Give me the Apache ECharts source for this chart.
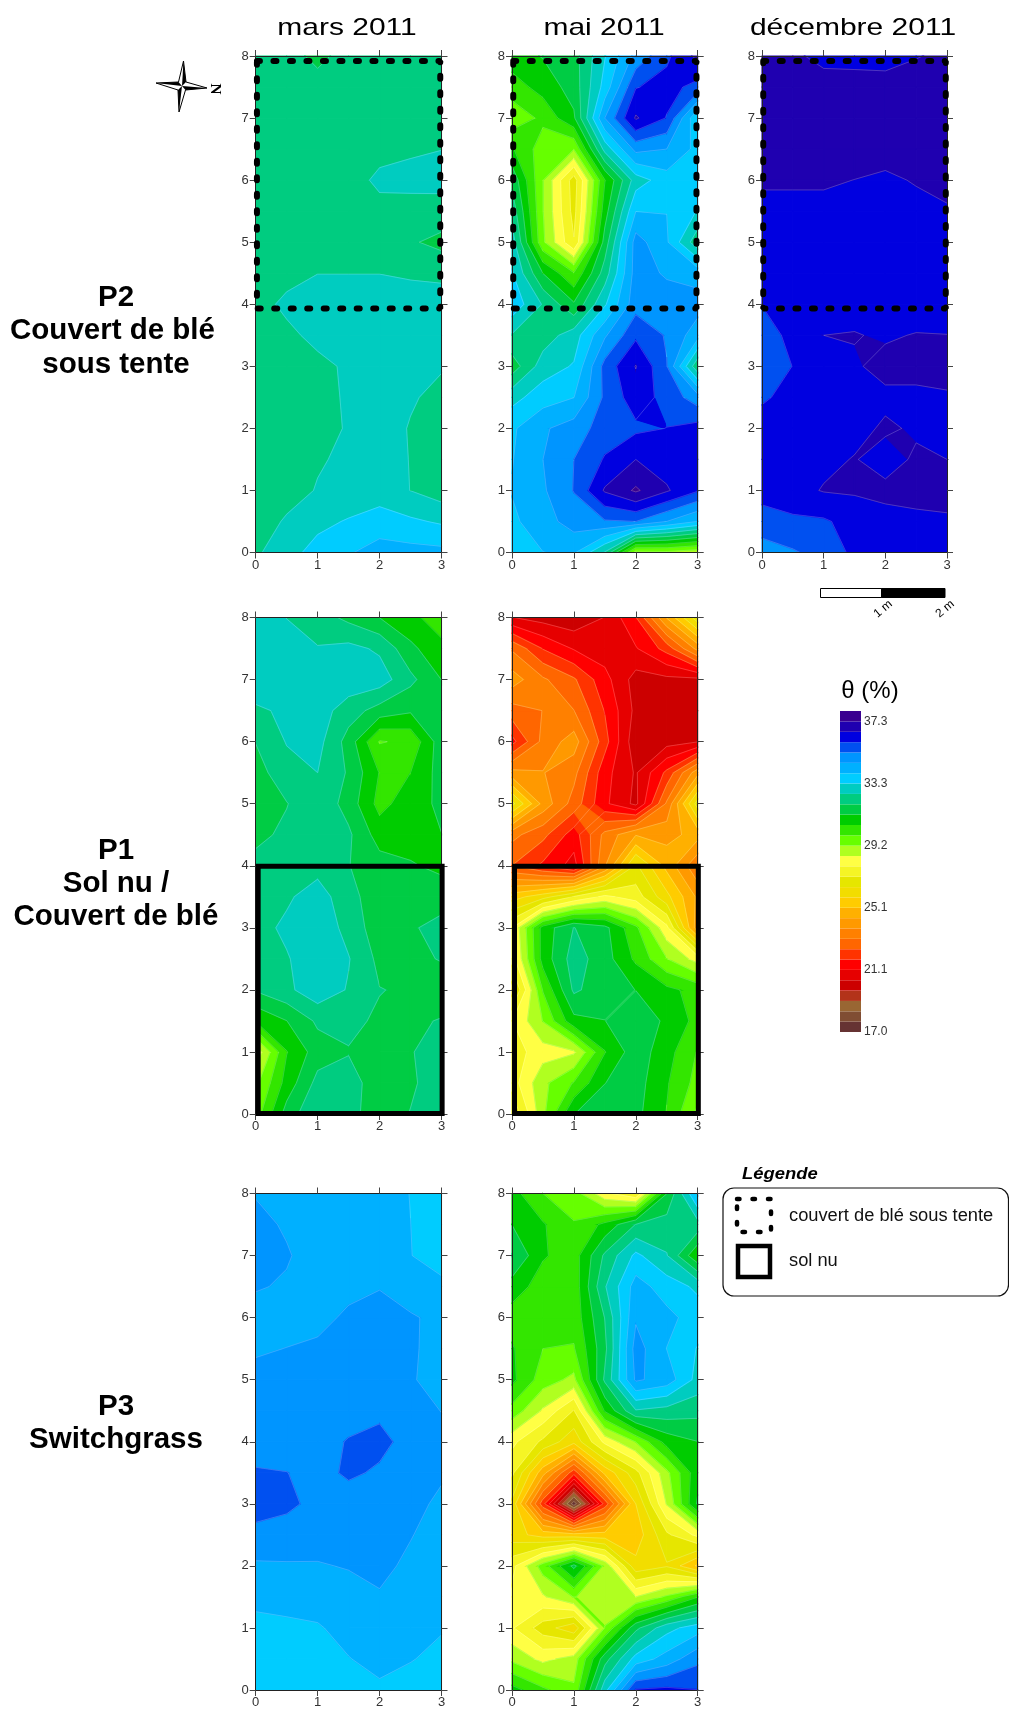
<!DOCTYPE html>
<html><head><meta charset="utf-8">
<script src="https://cdn.jsdelivr.net/npm/echarts@6/dist/echarts.min.js"></script>
<style>html,body{margin:0;padding:0;background:#fff}#c{width:1009px;height:1719px}</style></head>
<body><div id="c"></div>
<script>
// rows run from y=8 down to y=0, columns x=0..3
const p2Mars=[[32.2,31.8,32.2,32.2],[32.2,32.2,32.2,32.3],[32.2,32.1,32.65,32.8],[32.2,32.2,32.2,31.7],[32.4,32.9,32.9,33.0],[32.1,32.45,32.8,32.6],[32.0,32.4,32.8,32.25],[32.0,32.6,32.9,32.2],[32.45,33.5,34.2,34.1]];
const p2Mai=[[30.9,31.6,34.8,36.8],[29.4,31.1,36.7,33.3],[31.7,26.8,32.9,33.7],[32.9,27.2,34.9,32.1],[33.7,31.3,35.0,34.9],[31.5,33.3,36.65,32.0],[33.8,34.9,35.8,36.2],[33.95,35.3,37.4,36.0],[33.6,34.0,28.9,28.7]];
const p2Dec=[[36.9,36.5,36.5,36.7],[37,37.1,37,37],[36.68,36.68,36.55,36.75],[36.3,36.3,36.3,36.4],[35.95,36.3,36.3,36.3],[35.6,36.3,36.8,36.85],[36.15,36.3,36.7,36.5],[36.15,36.66,36.75,36.8],[34.9,35.5,36.4,36.3]];
const p1Mars=[[32.9,32.2,31.2,30.2],[33,33,32.9,31.2],[31.9,32.8,29.8,31.6],[31.3,32.4,30.3,31.35],[32.1,32.3,31.5,31.05],[32.3,33.1,31.5,32.1],[31.95,33,31.9,31.7],[28,31.55,31.6,32.1],[29.5,32.5,31.6,32.2]];
const p1Mai=[[20.4,19.9,21.7,26.9],[24.1,22.5,20.1,20.2],[21.5,24.1,19.9,20.35],[26.7,22.8,20.2,26.8],[22.4,20.8,26.6,23.2],[27.8,31.9,30,24],[26.2,32,31.2,30.3],[27.5,28.4,31.6,29.8],[26.5,31.2,31.4,29]];
const p3Mars=[[34.55,34.2,34.1,33.7],[35,34.3,34.2,33.65],[34.3,34.45,34.9,34.45],[34.75,34.9,34.95,34.35],[34.9,35.1,35.4,34.8],[35.6,35.1,34.95,34.5],[34.5,34.55,34.7,34.3],[33.7,33.85,34.4,33.95],[33.6,33.5,33.8,33.6]];
const p3Mai=[[30.8,29.5,27.2,34],[31.9,30.2,33.4,30.6],[30.2,30.1,34.5,33.6],[30.7,29,34.7,33],[28,26,30.5,31.2],[26.3,17.3,25.8,31.3],[27.6,31.4,26,25],[27.9,26,31.7,33.6],[30.8,29.3,36,35.95]];
// additional readings at half-metre nodes: [x, y, value]
const p2MaiHalf=[[2.5,7.5,36.2],[3,7.5,35.7],[2.5,7,35.9],[2,7.5,35.9],[1.5,7.5,33.5],[1.5,7,34.6],[2,6.5,34.8],[2.5,6.5,34.59],[3,6.5,33.7],[1.5,6.5,32.8],[1,6.5,29.2],[0.5,6.5,29.5],[0,6.5,30.6],[0.5,7.5,30.8],[1,7.5,31.5],[0,7.5,30.2],[0.5,7,30],[0.5,6,29.2],[0.5,5.5,29.2],[1,5.5,26.9],[0.5,5,29.3],[1,4.5,29.9],[0.5,4.5,31.2],[1.5,4.5,32.2],[2,4.5,34.9],[2.5,4.5,34.5],[3,4.5,34.3],[2.5,5,34],[2.5,5.5,33.9],[3,5.5,33.2],[1.5,5.5,30.9],[2,5.5,33.9],[1.5,5,31.5],[1.5,6,30.5],[2.5,6,33.6],[0,3.5,32.5],[0.5,3.5,32.2],[1,3.5,32.9],[1.5,3.5,34.5],[2,3.5,35.8],[2.5,3.5,35.2],[3,3.5,34.2],[0.5,3,32.9],[1.5,3,35.5],[2.5,3,35.3],[0,2.5,33],[0.5,2.5,33.6],[1,2.5,33.9],[1.5,2.5,35.4],[2,2.5,36.3],[2.5,2.5,35.7],[3,2.5,34.9],[0.5,2,34.5],[1.5,2,35.6],[2.5,2,35.95],[0.5,1.5,34.59],[1,1.5,35.27],[1.5,1.5,36],[2,1.5,36.62],[2.5,1.5,36.3],[3,1.5,36.2],[0.5,1,34.5],[1.5,1,36.7],[2.5,1,36.7],[0.5,0.5,34.3],[1,0.5,34.9],[1.5,0.5,35.2],[2,0.5,35.27],[2.5,0.5,34.59],[3,0.5,33.9],[0.5,0,33.9],[1.5,0,32.5],[2.5,0,29]];
const p2DecHalf=[[2,2.5,36.5],[2.5,2.5,36.5],[3,2.5,36.55],[3,2,36.5],[2,1.5,36.4],[2.5,1.5,36.7],[3,1.5,36.62],[2.5,2,36.55],[1.5,1.5,36.65],[1.5,2,36.45],[1.5,1,36.7],[2.5,1,36.8],[2.5,0.5,36.5],[3,0.5,36.55],[2,0.5,36.45],[1.5,0.5,36.2],[1,0.5,35.85],[0.5,0.5,35.8],[0,0.5,35.7],[1.5,0,36.1],[1,3.5,36.62],[1.5,3.5,36.65],[1.5,3,36.55],[2,3.5,36.55],[2.5,3.5,36.65],[3,3.5,36.63],[2.5,3,36.8],[1.5,4,36.4]];
const p1MarsHalf=[[0.5,0,31.5],[1,6.5,32.9],[1.5,6.5,32.2],[1.5,7,33],[1.5,7.5,32.75],[2,7.5,32.45],[0.5,6,32.6],[1,5.5,32.56],[0.5,5.5,32.3],[2,6.5,31.6],[2.5,6.5,31.3],[1.5,5.5,31.8],[1.5,6,31.6],[2,5.5,30.5],[2.5,5.5,30.53],[2.5,6,30],[2.5,5,30.9],[1.5,5,31.6],[1.5,4.5,32],[2,4.5,30.9],[2.5,4.5,30.9],[3,5.5,31.5],[3,4.5,31.2],[1,4.5,32.4],[1,3.5,32.9],[0.5,3,32.7],[1.5,3,32.3],[1,2.5,33],[0.5,2.5,32.5],[1.5,2.5,32.6],[1.5,2,32.5],[0.5,2,32.4],[1,1.5,32],[0.5,1.5,31.2],[0,1.5,30.6],[1.5,1.5,32],[2,1.5,31.8],[1.5,1,31.85],[0.5,1,30.5],[0,0.5,29],[0.5,0.5,30.8],[1,0.5,32.1],[1.5,0.5,32.1],[2,0.5,31.6],[2.5,0.5,31.8]];
const p1MaiHalf=[[0.5,8,20.1],[1.5,8,20.4],[2.5,8,24.5],[0,7.5,23],[0.5,7.5,21.7],[1,7.5,21],[1.5,7.5,20.7],[2,7.5,21],[2.5,7.5,22],[3,7.5,24],[0.5,7,23.2],[2.5,7,20.2],[0,6.5,22.8],[0.5,6.5,23.1],[1,6.5,23.1],[1.5,6.5,21.7],[2,6.5,20.2],[2.5,6.5,20.1],[3,6.5,20.1],[0.5,6,23.3],[1.5,6,22],[2.5,6,20.1],[0,5.5,24],[0.5,5.5,23.8],[1,5.5,23.3],[1.5,5.5,21.3],[2,5.5,20.3],[2.5,5.5,21.9],[3,5.5,24.2],[0.5,5,24.2],[1.5,5,21.2],[2.5,5,23.2],[0,4.5,23.3],[0.5,4.5,22.6],[1,4.5,21.4],[1.5,4.5,23.3],[2,4.5,24.4],[2.5,4.5,24.2],[3,4.5,24.7],[0,3.5,25.5],[0.5,3.5,26.2],[1,3.5,27.2],[1.5,3.5,28],[2,3.5,27.5],[2.5,3.5,26],[3,3.5,24.3],[0.5,3,30.8],[1.5,3,31.4],[2.5,3,28],[0,2.5,27.5],[0.5,2.5,30.8],[1,2.5,32.2],[1.5,2.5,31.5],[2,2.5,30.4],[2.5,2.5,29.2],[3,2.5,28.2],[0.5,2,29.9],[1.5,2,31.5],[2.5,2,30.7],[0,1.5,27.8],[0.5,1.5,29.2],[1,1.5,31],[1.5,1.5,31.2],[2,1.5,31.6],[2.5,1.5,31.1],[3,1.5,30.3],[0.5,1,28.2],[1.5,1,30.5],[2.5,1,30.8],[0,0.5,27.5],[0.5,0.5,29],[1,0.5,29.9],[1.5,0.5,31.2],[2,0.5,31.5],[2.5,0.5,30.6],[3,0.5,29.6],[0.5,0,29],[1.5,0,31.5],[2.5,0,30.5]];
const p3MarsHalf=[[1.5,3.5,35.35],[1.5,4,35.3],[2,3.5,35.2],[2.5,4,35.1],[0.5,3.5,35.28],[0.5,3,35.4],[0,3.5,35.35],[0.5,2.5,35],[0,2.5,35.05],[2.5,6,34.65]];
const p3MaiHalf=[[0.5,7,30.6],[0.5,8,29.85],[0,7.5,31.2],[0.5,7.5,30.6],[1,7.5,29.9],[1.5,7.5,30.7],[2,7.5,31.9],[2.5,7.5,32.2],[3,7.5,32.3],[1.5,8,28],[2.5,8,31.2],[1.5,7,32],[2.5,7,32.6],[0.5,6.5,30.2],[0,6.5,30.9],[1,6.5,30.1],[1.5,6.5,32.5],[2,6.5,34.2],[2.5,6.5,33.6],[3,6.5,33.1],[1.5,6,31.9],[2.5,6,34.1],[0,5.5,30.6],[0.5,5.5,29.85],[1,5.5,29.8],[1.5,5.5,31.7],[2,5.5,34.9],[2.5,5.5,33.9],[3,5.5,33.2],[0.5,5,29.5],[1.5,5,32],[2.5,5,34.3],[0,4.5,29.6],[0.5,4.5,28.4],[1,4.5,27.1],[1.5,4.5,30.6],[2,4.5,32.5],[2.5,4.5,32.3],[3,4.5,32.1],[1.5,4,28],[2,4,29.2],[2.5,4,30.8],[0,3.5,27.3],[0.5,3.5,24.7],[1,3.5,22],[1.5,3.5,25.3],[2,3.5,26.9],[2.5,3.5,29],[3,3.5,31],[0.5,3,22],[1.5,3,22],[0,2.5,26.1],[0.5,2.5,25.5],[1,2.5,25.4],[1.5,2.5,25.4],[2,2.5,25.4],[2.5,2.5,27],[3,2.5,28],[0.5,2,29.5],[1.5,2,29],[2.5,2,26.4],[0,1.5,28],[0.5,1.5,28.4],[1,1.5,29.2],[1.5,1.5,28.9],[2,1.5,28.5],[2.5,1.5,29.3],[3,1.5,30.5],[0.5,1,26.8],[1.5,1,29.2],[2.5,1,33],[0,0.5,29],[0.5,0.5,28.3],[1,0.5,28.8],[1.5,0.5,31.6],[2,0.5,33.5],[2.5,0.5,34.2],[3,0.5,35.1],[0.5,0,30],[1.5,0,33],[2.5,0,36.1]];
const noHalf=[];
const contourLevels=[17.0,17.68,18.35,19.03,19.71,20.38,21.06,21.74,22.41,23.09,23.77,24.44,25.12,25.8,26.47,27.15,27.83,28.5,29.18,29.85,30.53,31.21,31.88,32.56,33.24,33.91,34.59,35.27,35.94,36.62,37.3];
const bandColors=['#663333','#804d33','#996633','#b3331a','#cc0000','#e60000','#ff0000','#ff3300','#ff6600','#ff8000','#ff9900','#ffb000','#ffcc00','#f2dd00','#e6e600','#f5f525','#ffff44','#b0ff20','#66ff00','#33e600','#00cc00','#00cc44','#00cc80','#00ccc0','#00ccff','#00b0ff','#0095ff','#0050f0','#0000e0','#1f00b0','#3a0090'];
const barTop=37.98;
const barTicks=[17.0,21.06,25.12,29.18,33.24,37.3];
const barTickLabels=['17.0','21.1','25.1','29.2','33.3','37.3'];
const columnTitles=['mars 2011','mai 2011','décembre 2011'];
const dottedBox=[[0.02,7.92],[2.98,7.92],[2.98,3.93],[0.02,3.93],[0.02,7.92]];
const solidBox=[[0.04,3.99],[3.01,3.99],[3.01,0.01],[0.04,0.01],[0.04,3.99]];

const panels=[
 {v:p2Mars,h:noHalf,l:255.7,w:185.8,t:56,b:552.5,box:'d'},
 {v:p2Mai,h:p2MaiHalf,l:512,w:185.7,t:56,b:552.5,box:'d'},
 {v:p2Dec,h:p2DecHalf,l:762,w:185,t:56,b:552.5,box:'d'},
 {v:p1Mars,h:p1MarsHalf,l:255.7,w:185.8,t:617.5,b:1114,box:'s'},
 {v:p1Mai,h:p1MaiHalf,l:512,w:185.7,t:617.5,b:1114,box:'s'},
 {v:p3Mars,h:p3MarsHalf,l:255.7,w:185.8,t:1193.5,b:1690},
 {v:p3Mai,h:p3MaiHalf,l:512,w:185.7,t:1193.5,b:1690}
];
function surface(p){
  const g={};
  for(let i=0;i<=6;i++)for(let j=0;j<=16;j++){
    const x=i/2,y=j/2,x0=Math.min(Math.floor(x),2),y0=Math.min(Math.floor(y),7),fx=x-x0,fy=y-y0;
    const r0=p.v[8-y0],r1=p.v[8-y0-1];
    g[i+'_'+j]=(r0[x0]*(1-fx)+r0[x0+1]*fx)*(1-fy)+(r1[x0]*(1-fx)+r1[x0+1]*fx)*fy;
  }
  p.h.forEach(e=>{g[(e[0]*2)+'_'+(e[1]*2)]=e[2];});
  const out=[];
  for(let i=0;i<6;i++)for(let j=0;j<16;j++){
    out.push([i/2,j/2,i/2+.5,j/2+.5,g[i+'_'+j],g[(i+1)+'_'+j],g[i+'_'+(j+1)],g[(i+1)+'_'+(j+1)]]);
  }
  return out;
}
function quad(api){
  const x0=api.value(0),y0=api.value(1),x1=api.value(2),y1=api.value(3);
  return [{x:x0,y:y0,v:api.value(4)},{x:x1,y:y0,v:api.value(5)},{x:x1,y:y1,v:api.value(7)},{x:x0,y:y1,v:api.value(6)}];
}
function clip(poly,level,keepAbove){
  const out=[];
  for(let i=0;i<poly.length;i++){
    const p=poly[i],q=poly[(i+1)%poly.length];
    const pIn=keepAbove?p.v>=level:p.v<=level,qIn=keepAbove?q.v>=level:q.v<=level;
    if(pIn)out.push(p);
    if(pIn!==qIn){const t=(level-p.v)/(q.v-p.v);out.push({x:p.x+(q.x-p.x)*t,y:p.y+(q.y-p.y)*t,v:level});}
  }
  return out;
}
function renderFill(params,api){
  const children=[],c=quad(api);
  const mn=Math.min(c[0].v,c[1].v,c[2].v,c[3].v),mx=Math.max(c[0].v,c[1].v,c[2].v,c[3].v);
  for(let k=0;k<bandColors.length;k++){
    const lo=contourLevels[k],hi=k+1<contourLevels.length?contourLevels[k+1]:Infinity;
    if((k>0&&mx<lo)||mn>hi)continue;
    let poly=c;
    if(k>0)poly=clip(poly,lo,true);
    if(hi!==Infinity&&poly.length)poly=clip(poly,hi,false);
    if(poly.length<3)continue;
    children.push({type:'polygon',shape:{points:poly.map(o=>api.coord([o.x,o.y]))},style:{fill:bandColors[k],stroke:bandColors[k],lineWidth:1.1},silent:true});
  }
  return {type:'group',children};
}
function renderLines(params,api){
  const children=[],c=quad(api);
  contourLevels.forEach(L=>{
    const pts=[];
    for(let i=0;i<4;i++){
      const p=c[i],q=c[(i+1)%4];
      if((p.v<L)!==(q.v<L)){const t=(L-p.v)/(q.v-p.v);pts.push(api.coord([p.x+(q.x-p.x)*t,p.y+(q.y-p.y)*t]));}
    }
    for(let n=0;n+1<pts.length;n+=2){
      children.push({type:'line',shape:{x1:pts[n][0],y1:pts[n][1],x2:pts[n+1][0],y2:pts[n+1][1]},style:{stroke:'rgba(255,255,255,0.3)',lineWidth:0.7},silent:true});
    }
  });
  return {type:'group',children};
}
const grid=[],xAxis=[],yAxis=[],series=[];
panels.forEach((p,i)=>{
  grid.push({left:p.l,width:p.w,top:p.t,height:p.b-p.t});
  const ax={gridIndex:i,type:'value',splitLine:{show:false},z:8,
    axisLine:{show:true,onZero:false,lineStyle:{color:'#222',width:1}},axisTick:{show:true,length:6,inside:false,lineStyle:{color:'#444',width:1}}};
  const lab={show:true,fontFamily:'Liberation Sans',fontSize:13,color:'#333',margin:7,showMinLabel:true,showMaxLabel:true};
  xAxis.push(Object.assign({},ax,{min:0,max:3,interval:1,position:'bottom',axisLabel:Object.assign({},lab,{margin:6})}));
  xAxis.push(Object.assign({},ax,{min:0,max:3,interval:1,position:'top',axisLabel:{show:false}}));
  yAxis.push(Object.assign({},ax,{min:0,max:8,interval:1,position:'left',axisLabel:lab}));
  yAxis.push(Object.assign({},ax,{min:0,max:8,interval:1,position:'right',axisLabel:{show:false}}));
  const data=surface(p),base={type:'custom',coordinateSystem:'cartesian2d',xAxisIndex:i*2,yAxisIndex:i*2,data,encode:{x:[0,2],y:[1,3]},clip:false,silent:true,animation:false};
  series.push(Object.assign({},base,{renderItem:renderFill,z:2}));
  series.push(Object.assign({},base,{renderItem:renderLines,z:3}));
  if(p.box){
    const d=p.box==='d';
    series.push({type:'line',xAxisIndex:i*2,yAxisIndex:i*2,data:d?dottedBox:solidBox,symbol:'none',clip:false,silent:true,animation:false,z:10,
      lineStyle:d?{color:'#000',width:6,type:[3,13.5],cap:'round'}:{color:'#000',width:5,join:'miter',cap:'square'}});
  }
});
// colour scale
const bi=panels.length;
grid.push({left:840,width:21,top:711,height:321});
xAxis.push({gridIndex:bi,type:'value',min:0,max:1,show:false});
yAxis.push({gridIndex:bi,type:'value',min:17,max:barTop,position:'right',splitLine:{show:false},axisLine:{show:false},axisTick:{show:false},
  axisLabel:{show:true,customValues:barTicks,formatter:v=>barTickLabels[barTicks.indexOf(v)],fontFamily:'Liberation Sans',fontSize:12,color:'#333',margin:3}});
series.push({type:'custom',coordinateSystem:'cartesian2d',xAxisIndex:xAxis.length-1,yAxisIndex:yAxis.length-1,silent:true,animation:false,
  data:bandColors.map((c,k)=>[k,contourLevels[k],k+1<contourLevels.length?contourLevels[k+1]:barTop]),encode:{y:[1,2]},
  renderItem:(params,api)=>{
    const a=api.coord([0,api.value(2)]),b=api.coord([1,api.value(1)]);
    return {type:'rect',shape:{x:a[0],y:a[1],width:b[0]-a[0],height:b[1]-a[1]},style:{fill:bandColors[api.value(0)]}};
  }});
const txt=(text,x,y,font,extra)=>Object.assign({type:'text',x,y,silent:true,style:{text,font,fill:'#000',textAlign:'center',textVerticalAlign:'middle'}},extra||{});
const rowFont='bold 29.5px "Liberation Sans"';
const graphic=[];
[347,604,853].forEach((x,i)=>graphic.push(txt(columnTitles[i],x,28,'24px "Liberation Sans"',{scaleX:1.25})));
[['P2',116,298],['Couvert de blé',112.5,331],['sous tente',116,365],['P1',116,851],['Sol nu /',116,884],['Couvert de blé',116,917],['P3',116,1407],['Switchgrass',116,1440]].forEach(r=>graphic.push(txt(r[0],r[1],r[2],rowFont)));
graphic.push(txt('θ (%)',870,691,'24px "Liberation Sans"'));
// scale bar
graphic.push({type:'rect',shape:{x:820.5,y:588.5,width:61,height:9},style:{fill:'#fff',stroke:'#000',lineWidth:1}});
graphic.push({type:'rect',shape:{x:881.5,y:588.5,width:63.5,height:9},style:{fill:'#000',stroke:'#000',lineWidth:1}});
graphic.push(txt('1 m',883,609,'12px "Liberation Sans"',{rotation:0.7}));
graphic.push(txt('2 m',945,609,'12px "Liberation Sans"',{rotation:0.7}));
// north arrow
const N=[183.5,61],E=[207,88],S=[179,112],W=[156,83],C=[182,86],ne=[186,82],se=[185.5,90],sw=[178,90],nw=[178.5,82];
graphic.push({type:'polygon',shape:{points:[N,ne,E,se,S,sw,W,nw]},style:{fill:'#fff',stroke:'#000',lineWidth:1}});
[[N,ne,C],[E,se,C],[S,sw,C],[W,nw,C]].forEach(pts=>graphic.push({type:'polygon',shape:{points:pts},style:{fill:'#000'}}));
graphic.push(txt('N',215,89,'bold 15px "Liberation Serif"',{rotation:-Math.PI/2}));
// legend
graphic.push({type:'text',x:742,y:1175,scaleX:1.15,silent:true,style:{text:'Légende',font:'italic bold 16px "Liberation Sans"',fill:'#000',textAlign:'left',textVerticalAlign:'middle'}});
graphic.push({type:'rect',shape:{x:723,y:1188,width:285.5,height:108,r:11},style:{fill:'#fff',stroke:'#111',lineWidth:1.2}});
graphic.push({type:'rect',shape:{x:737,y:1199,width:34,height:33},style:{fill:'none',stroke:'#000',lineWidth:4.5,lineDash:[2.5,13],lineCap:'round'},z:5});
graphic.push({type:'rect',shape:{x:738,y:1246,width:32,height:31},style:{fill:'none',stroke:'#000',lineWidth:4.5},z:5});
[['couvert de blé sous tente',1216],['sol nu',1261]].forEach(r=>graphic.push({type:'text',x:789,y:r[1],z:5,style:{text:r[0],font:'18.3px "Liberation Sans"',fill:'#111',textAlign:'left',textVerticalAlign:'middle'}}));
const chart=echarts.init(document.getElementById('c'),null,{renderer:'canvas'});
chart.setOption({animation:false,backgroundColor:'#fff',grid,xAxis,yAxis,series,graphic});
</script></body></html>
